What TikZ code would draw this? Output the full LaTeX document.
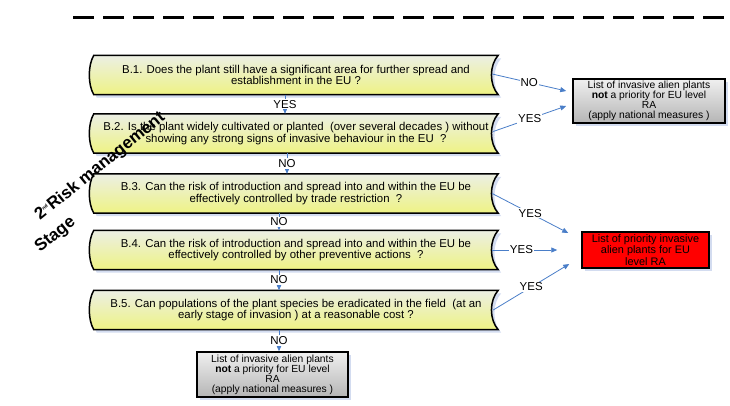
\documentclass[tikz,border=0pt]{standalone}
\usepackage{fontspec}
\setmainfont{Liberation Sans}
\usetikzlibrary{calc,backgrounds,shadows,arrows.meta}

\definecolor{qpale}{HTML}{ECEFE4}
\definecolor{qyellow}{HTML}{EEF384}
\definecolor{flowblue}{HTML}{4A7EC8}
\definecolor{shadowblue}{HTML}{D3DCF0}

\tikzset{
  question/.style={minimum width=404pt, minimum height=39pt, inner sep=0pt, align=center,
    font=\fontsize{11.4}{10.6}\selectfont},
  qshape/.style={draw=black, line width=1.5pt, top color=qpale, bottom color=qyellow,
    drop shadow={shadow xshift=3pt, shadow yshift=-3pt, fill=shadowblue, opacity=1}},
  notlist/.style={draw=black, line width=1.5pt, align=center, inner sep=0pt,
    top color=gray!12, bottom color=gray!58, font=\fontsize{10.3}{10}\selectfont,
    drop shadow={shadow xshift=3pt, shadow yshift=-3pt, fill=shadowblue, opacity=1}},
  prilist/.style={draw=black, line width=1.5pt, align=center, inner sep=0pt, fill=red,
    font=\fontsize{10.9}{10}\selectfont,
    drop shadow={shadow xshift=3pt, shadow yshift=-3pt, fill=shadowblue, opacity=1}},
  flow/.style={draw=flowblue, line width=0.8pt, -{Triangle[length=6pt,width=5pt]}},
  answer/.style={fill=white, inner sep=1pt, font=\fontsize{11.5}{11.5}\selectfont},
  stage/.style={rotate=39, anchor=base west, inner sep=0pt, font=\bfseries\fontsize{17}{17}\selectfont}
}

\begin{document}
\begin{tikzpicture}[x={(1pt,0)}, y={(0,-1pt)}]
\useasboundingbox (0,0) rectangle (730,405);

\draw[line width=3pt, dash pattern=on 21pt off 9pt] (73,17) -- (730,17);

\node[question] (b1) at (296,75) {B.1. Does the plant still have a significant area for further spread and\\establishment in the EU ?};
\node[question] (b2) at (296,133.5) {B.2. Is the plant widely cultivated or planted \ (over several decades ) without\\showing any strong signs of invasive behaviour in the EU \ ?};
\node[question] (b3) at (296,193.5) {B.3. Can the risk of introduction and spread into and within the EU be\\effectively controlled by trade restriction \ ?};
\node[question] (b4) at (296,250) {B.4. Can the risk of introduction and spread into and within the EU be\\effectively controlled by other preventive actions \ ?};
\node[question] (b5) at (296,310) {B.5. Can populations of the plant species be eradicated in the field \ (at an\\early stage of invasion ) at a reasonable cost ?};

\begin{scope}[on background layer]
\foreach \n in {b1,b2,b3,b4,b5}
  \path[qshape] (\n.north west) -- (\n.north east)
    .. controls ($(\n.north east)+(-9,10)$) and ($(\n.south east)+(-9,-10)$) .. (\n.south east)
    -- (\n.south west)
    .. controls ($(\n.south west)+(-6,-10)$) and ($(\n.north west)+(-6,10)$) .. cycle;
\end{scope}

\node[notlist, minimum width=152pt, minimum height=44pt] (g1) at (649,101) {List of invasive alien plants\\\textbf{not} a priority for EU level\\RA\\ (apply national measures )};
\node[notlist, minimum width=151pt, minimum height=45pt] (g2) at (272.5,374.5) {List of invasive alien plants\\\textbf{not} a priority for EU level\\RA\\ (apply national measures )};
\node[prilist, minimum width=127pt, minimum height=36pt] (pr) at (645.5,250) {List of priority invasive\\alien plants for EU\\level RA};

\draw[flow] ([xshift=-11pt]b1.south) -- node[answer]{YES} ([xshift=-11pt]b2.north);
\draw[flow] ([xshift=-9pt]b2.south) -- node[answer]{NO} ([xshift=-9pt]b3.north);
\draw[flow] ([xshift=-17pt]b3.south) -- node[answer]{NO} ([xshift=-17pt]b4.north);
\draw[flow] ([xshift=-17pt]b4.south) -- node[answer]{NO} ([xshift=-17pt]b5.north);
\draw[flow] ([xshift=-17pt]b5.south) -- node[answer]{NO} ([xshift=6.5pt]g2.north);

\draw[flow] ($(b1.east)+(-6,-1)$) -- node[answer]{NO} ($(g1.west)+(-6,-10)$);
\draw[flow] ($(b2.east)+(-5,-2)$) -- node[answer]{YES} ($(g1.west)+(-6,5)$);
\draw[flow] ($(b3.east)+(-6,0)$) -- node[answer]{YES} ($(pr.west)+(-13,-17)$);
\draw[flow] ($(b4.east)+(-6,0)$) -- node[answer, pos=0.45]{YES} ($(pr.west)+(-24,0)$);
\draw[flow] ($(b5.east)+(-5,0)$) -- node[answer]{YES} ($(pr.west)+(-12,14)$);

\node[stage] (stage1) at (40,221) {2\textsuperscript{\fontsize{5}{5}\selectfont nd}Risk management};
\node[stage] (stage2) at (40,253) {Stage};
\end{tikzpicture}
\end{document}
